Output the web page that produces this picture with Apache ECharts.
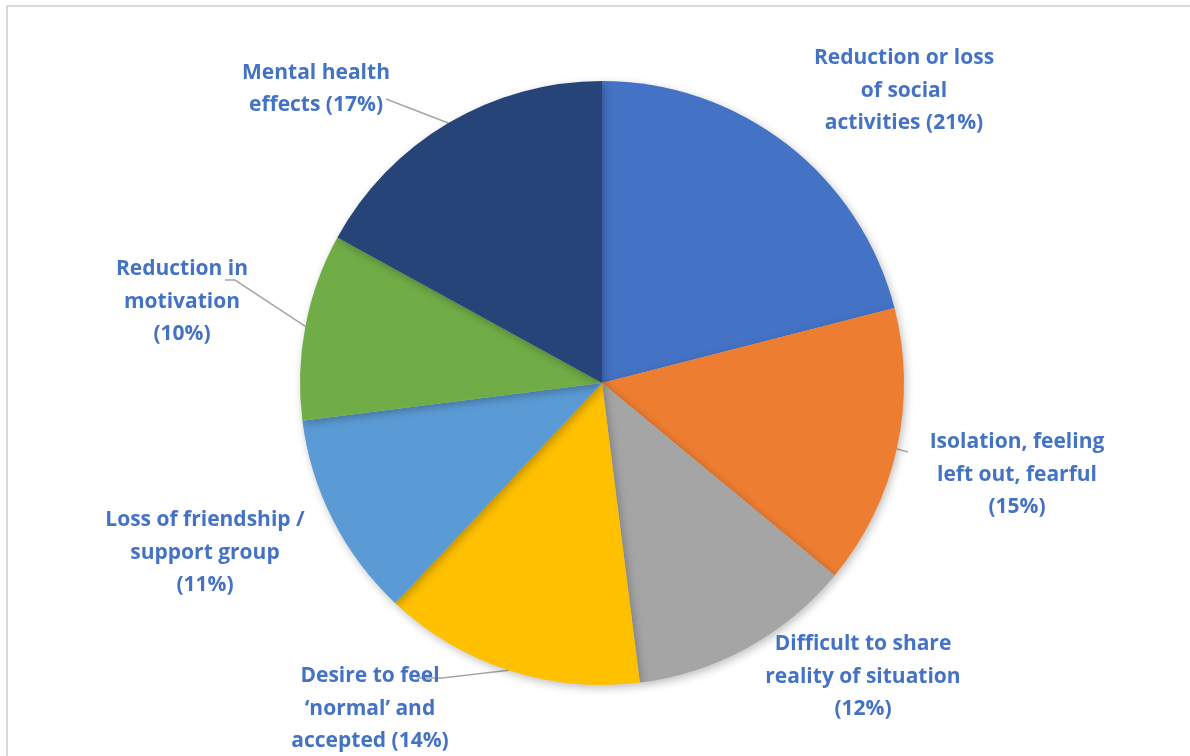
<!DOCTYPE html>
<html>
<head>
<meta charset="utf-8">
<script src="https://cdn.jsdelivr.net/npm/echarts@6/dist/echarts.min.js"></script>
<style>
  html, body { margin: 0; padding: 0; background: #fff; }
  #chart { width: 1190px; height: 756px; }
</style>
</head>
<body>
<div id="chart"></div>
<script>
// Slice names (with their line breaks) and shares, clockwise from 12 o'clock
const categories = [
  'Reduction or loss\nof social\nactivities',
  'Isolation, feeling\nleft out, fearful\n',
  'Difficult to share\nreality of situation\n',
  'Desire to feel\n\u2018normal\u2019 and\naccepted',
  'Loss of friendship /\nsupport group\n',
  'Reduction in\nmotivation\n',
  'Mental health\neffects'
];
const shares = [21, 15, 12, 14, 11, 10, 17];
const sliceColors = ['#4472C4', '#ED7D31', '#A5A5A5', '#FFC000', '#5B9BD5', '#70AD47', '#264478'];

// Centre of each label block on the canvas
const labelCentres = [
  [904, 91], [1017, 475], [863, 677], [370, 709], [205, 553], [182, 302], [316, 89]
];
// Leader line bends and ends (null = no leader line)
const leaderPaths = [
  null,
  [[908, 452]],
  null,
  [[442, 678], [417, 678]],
  null,
  [[235, 280], [225, 280]],
  [[386, 99]]
];

const chart = echarts.init(document.getElementById('chart'), null, { renderer: 'canvas' });

chart.setOption({
  backgroundColor: '#ffffff',
  animation: false,
  graphic: [{
    type: 'rect',
    shape: { x: 7, y: 6, width: 1240, height: 800 },
    style: { fill: 'none', stroke: '#d9d9d9', lineWidth: 2 },
    silent: true
  }],
  series: [{
    type: 'pie',
    center: [602, 383],
    radius: [0, 302],
    startAngle: 90,
    clockwise: true,
    avoidLabelOverlap: false,
    itemStyle: {
      borderWidth: 0,
      shadowBlur: 8,
      shadowOffsetX: 2,
      shadowOffsetY: 3,
      shadowColor: 'rgba(0,0,0,0.25)'
    },
    label: {
      show: true,
      position: 'outside',
      color: '#4472C4',
      fontFamily: '"Open Sans", sans-serif',
      fontWeight: 'bold',
      fontSize: 21,
      lineHeight: 32.5,
      align: 'center',
      formatter: p => p.name + (p.name.endsWith('\n') ? '' : ' ') + '(' + p.value + '%)'
    },
    labelLine: {
      show: true,
      length: 10,
      length2: 10,
      lineStyle: { color: '#a6a6a6', width: 1.5 }
    },
    labelLayout: p => {
      const i = p.dataIndex;
      const out = {
        x: labelCentres[i][0],
        y: labelCentres[i][1],
        align: 'center',
        verticalAlign: 'middle'
      };
      if (leaderPaths[i] && p.labelLinePoints) {
        out.labelLinePoints = [p.labelLinePoints[0]].concat(leaderPaths[i]);
      }
      return out;
    },
    data: categories.map((name, i) => ({
      name: name,
      value: shares[i],
      itemStyle: { color: sliceColors[i] },
      labelLine: { show: leaderPaths[i] !== null }
    }))
  }]
});
</script>
</body>
</html>
